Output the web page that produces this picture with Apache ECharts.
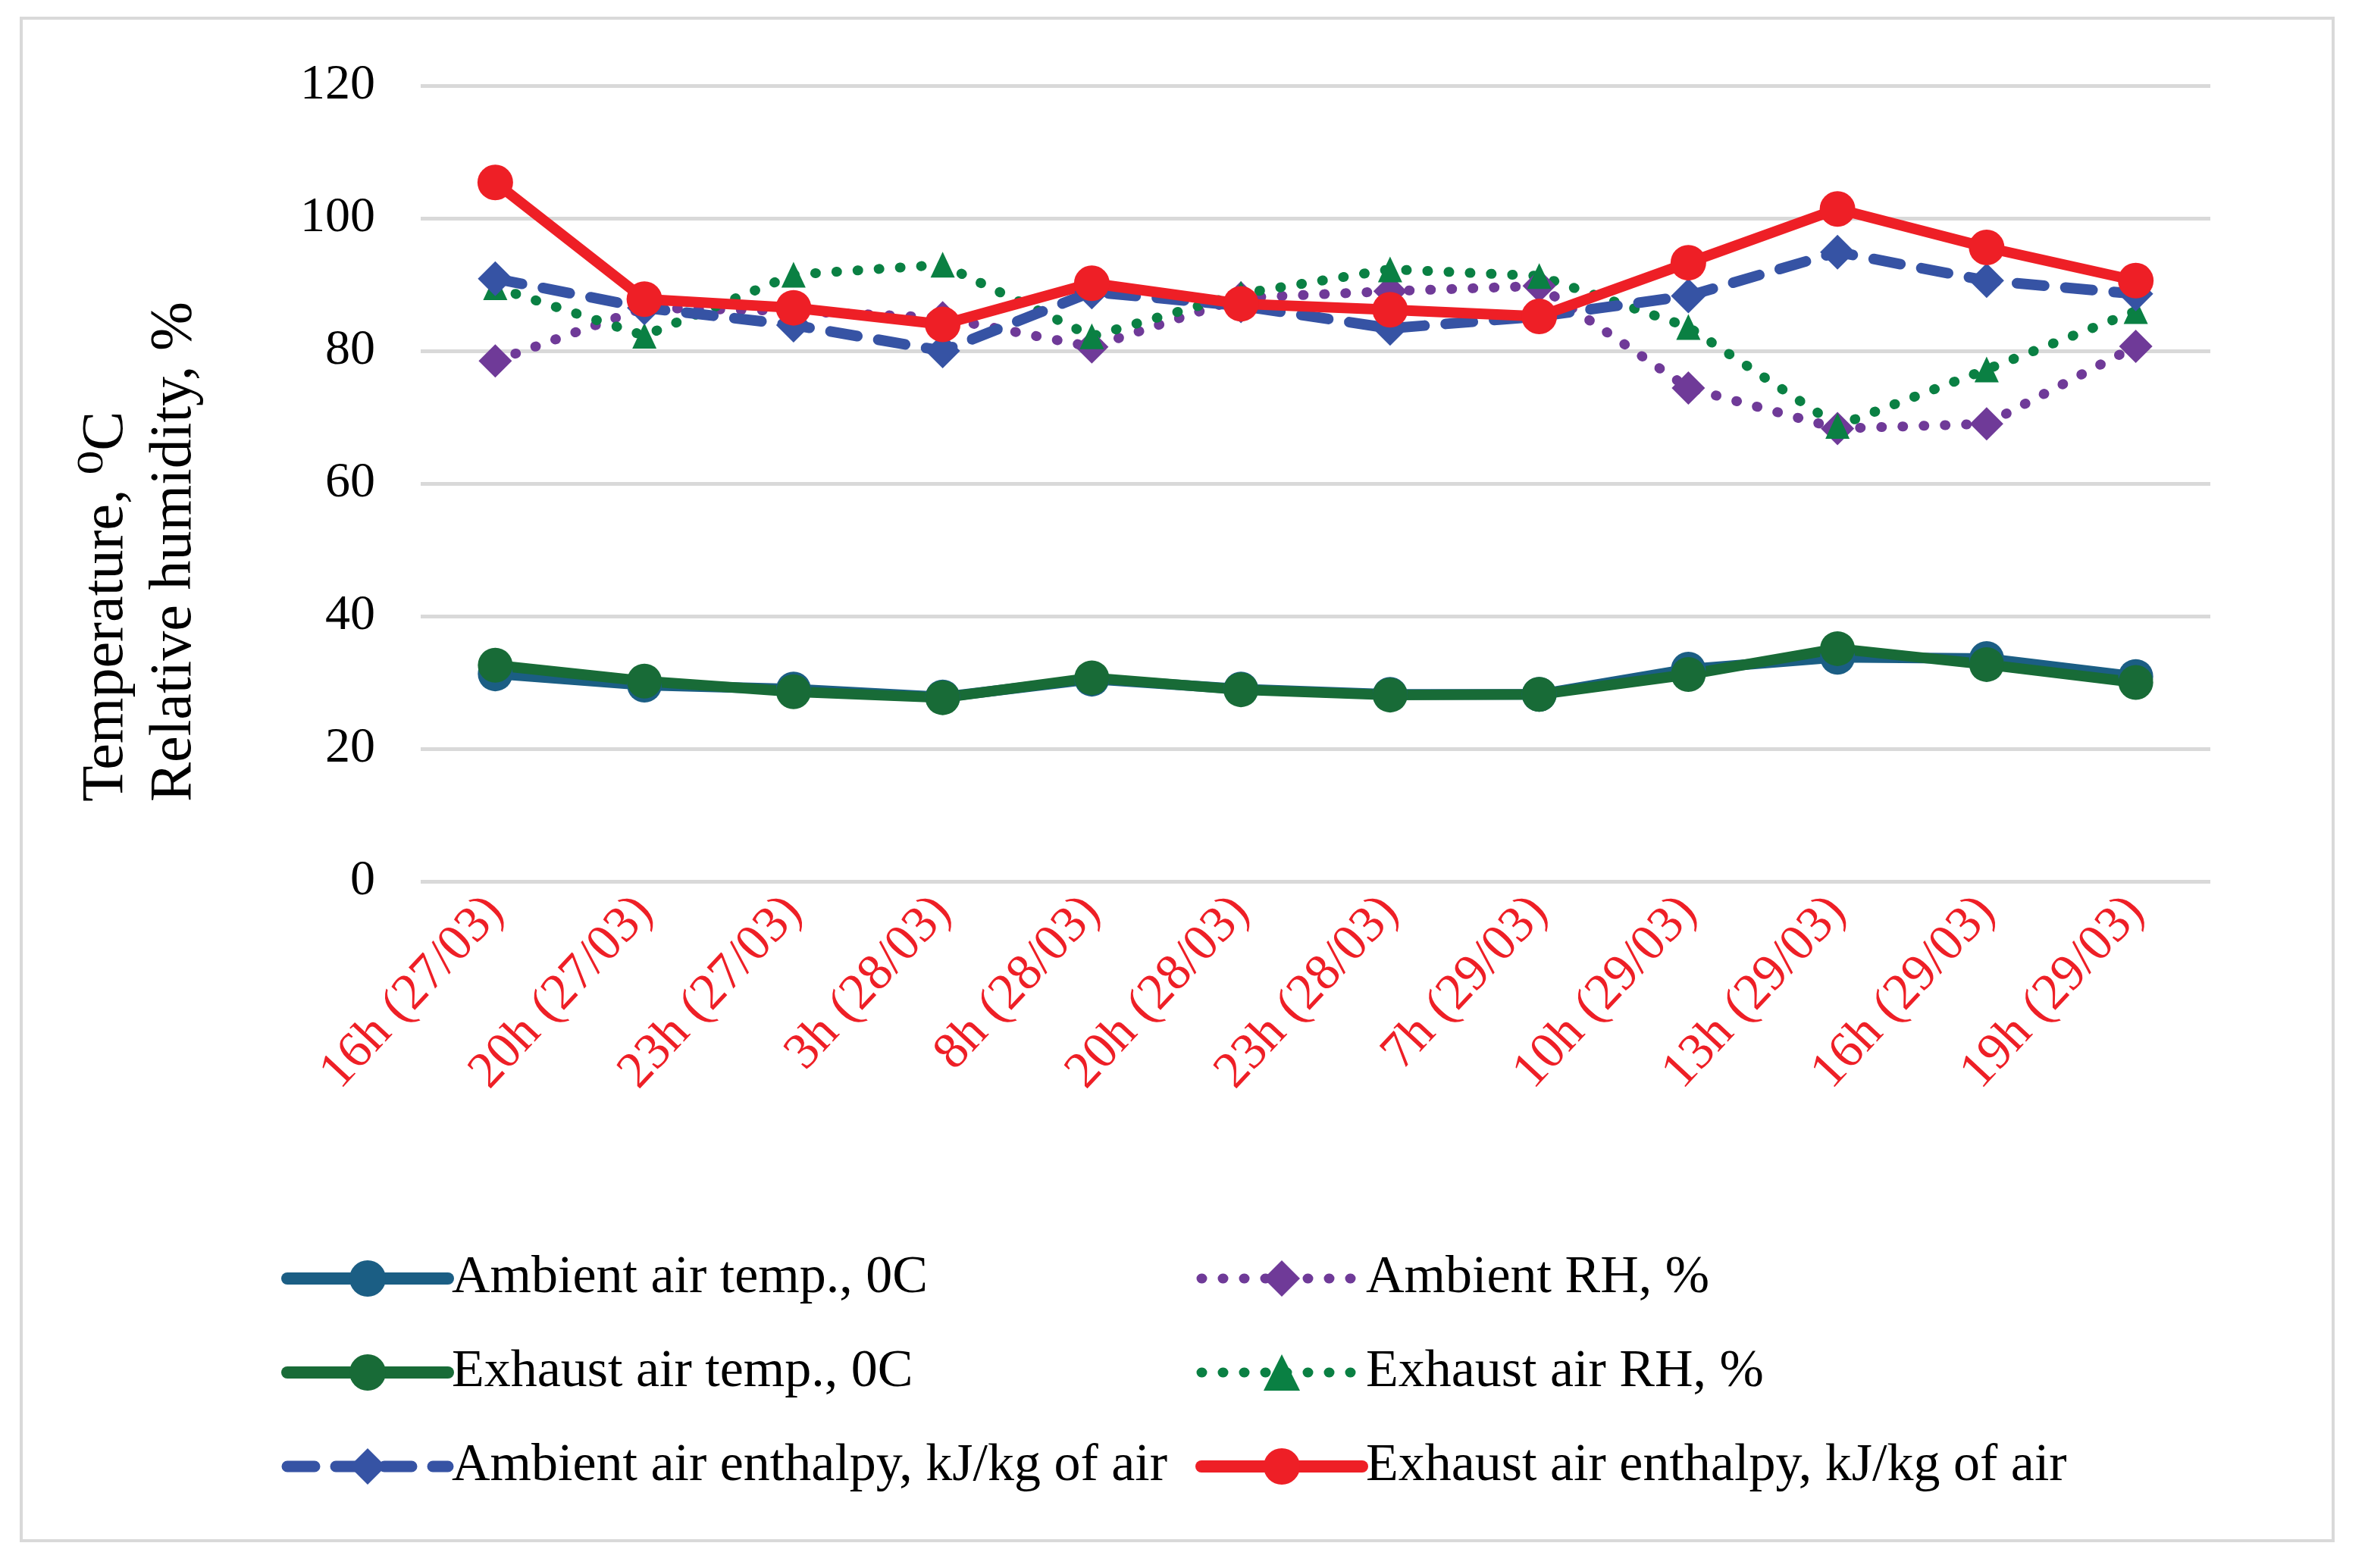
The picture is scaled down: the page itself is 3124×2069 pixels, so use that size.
<!DOCTYPE html>
<html>
<head>
<meta charset="utf-8">
<script src="https://cdn.jsdelivr.net/npm/echarts@6/dist/echarts.min.js"></script>
<style>
  html, body { margin: 0; padding: 0; background: #fff; }
  #chart { width: 3124px; height: 2069px; }
</style>
</head>
<body>
<div id="chart"></div>
<script>
// time points (x axis)
const categories = ['16h (27/03)', '20h (27/03)', '23h (27/03)', '3h (28/03)', '8h (28/03)', '20h (28/03)',
  '23h (28/03)', '7h (29/03)', '10h (29/03)', '13h (29/03)', '16h (29/03)', '19h (29/03)']

// values
const ambientTemp = [31.3, 29.6, 29.0, 27.8, 30.5, 29.0, 28.2, 28.2, 32.0, 33.8, 33.6, 30.9]
const exhaustTemp = [32.6, 30.2, 28.6, 27.7, 30.7, 28.9, 28.1, 28.2, 31.2, 35.1, 32.7, 30.0]
const ambientRH = [78.5, 86.5, 86.0, 85.0, 80.6, 88.0, 89.0, 89.8, 74.4, 68.3, 69.0, 80.7]
const exhaustRH = [89.6, 82.3, 91.5, 93.0, 82.2, 88.6, 92.3, 91.3, 83.6, 68.7, 77.2, 86.0]
const ambientEnthalpy = [90.9, 86.5, 83.9, 80.0, 88.9, 86.8, 83.4, 85.2, 88.3, 94.9, 90.6, 88.6]
const exhaustEnthalpy = [105.4, 87.8, 86.5, 84.0, 90.2, 87.1, 86.2, 85.2, 93.3, 101.4, 95.6, 90.6]

const yTicks = { min: 0, max: 120, interval: 20 }

const serif = '"Liberation Serif", "Times New Roman", "DejaVu Serif", serif'

const chart = echarts.init(document.getElementById('chart'))

const makeLine = (name, data, color, opts) => ({
  name: name,
  type: 'line',
  data: data,
  symbol: opts.symbol,
  symbolSize: opts.symbolSize,
  showSymbol: true,
  itemStyle: { color: color },
  lineStyle: {
    color: color,
    width: opts.width,
    type: opts.dash || 'solid',
    cap: 'round',
    join: 'round'
  },
  emphasis: { disabled: true },
  animation: false
})

const legendText = {
  fontFamily: serif,
  fontSize: 70,
  lineHeight: 70,
  color: '#000'
}

// legend entries get the same stroke width as the plotted lines
const legendItem = (name, width) => ({ name: name, lineStyle: { width: width, cap: 'round' } })

const option = {
  backgroundColor: '#fff',
  animation: false,
  grid: {
    left: 555,
    right: 208,
    top: 113,
    bottom: 906
  },
  legend: [
    {
      orient: 'vertical',
      left: 366,
      top: 1647,
      itemWidth: 212,
      itemHeight: 60,
      itemGap: 54,
      textStyle: legendText,
      data: [
        legendItem('Ambient air temp., 0C', 16),
        legendItem('Exhaust air temp., 0C', 16),
        legendItem('Ambient air enthalpy, kJ/kg of air', 15)
      ]
    },
    {
      orient: 'vertical',
      left: 1572,
      top: 1647,
      itemWidth: 212,
      itemHeight: 60,
      itemGap: 54,
      textStyle: legendText,
      data: [
        legendItem('Ambient RH, %', 13),
        legendItem('Exhaust air RH, %', 13),
        legendItem('Exhaust air enthalpy, kJ/kg of air', 16)
      ]
    }
  ],
  xAxis: {
    type: 'category',
    data: categories,
    boundaryGap: true,
    axisLine: { show: false },
    axisTick: { show: false },
    axisLabel: {
      rotate: 47,
      margin: 30,
      interval: 0,
      color: '#ee1f26',
      fontFamily: serif,
      fontSize: 68
    }
  },
  yAxis: {
    type: 'value',
    min: yTicks.min,
    max: yTicks.max,
    interval: yTicks.interval,
    axisLine: { show: false },
    axisTick: { show: false },
    axisLabel: {
      margin: 60,
      color: '#000',
      fontFamily: serif,
      fontSize: 66
    },
    splitLine: {
      lineStyle: { color: '#d9d9d9', width: 5 }
    }
  },
  graphic: [
    {
      type: 'rect',
      shape: { x: 28, y: 24, width: 3050, height: 2009 },
      style: { fill: 'none', stroke: '#d9d9d9', lineWidth: 4 },
      silent: true
    },
    {
      type: 'text',
      x: 186,
      y: 1058,
      rotation: Math.PI / 2,
      style: {
        text: 'Temperature, \u2070C\nRelative humidity, %',
        fontFamily: serif,
        fontSize: 78,
        lineHeight: 90,
        fill: '#000',
        align: 'left',
        verticalAlign: 'middle'
      },
      silent: true
    }
  ],
  series: [
    makeLine('Ambient air temp., 0C', ambientTemp, '#1b5e84', { symbol: 'circle', symbolSize: 46, width: 14 }),
    makeLine('Exhaust air temp., 0C', exhaustTemp, '#186b37', { symbol: 'circle', symbolSize: 46, width: 14 }),
    makeLine('Ambient RH, %', ambientRH, '#6f3a98', { symbol: 'diamond', symbolSize: 44, width: 13, dash: [1, 27] }),
    makeLine('Exhaust air RH, %', exhaustRH, '#0a8043', { symbol: 'triangle', symbolSize: [32, 34], width: 13, dash: [1, 27] }),
    makeLine('Ambient air enthalpy, kJ/kg of air', ambientEnthalpy, '#3653a4', { symbol: 'diamond', symbolSize: 46, width: 14, dash: [36, 28] }),
    makeLine('Exhaust air enthalpy, kJ/kg of air', exhaustEnthalpy, '#ee1f26', { symbol: 'circle', symbolSize: 47, width: 14 })
  ]
}

chart.setOption(option)

window.addEventListener('resize', () => {
  chart.resize()
})
</script>
</body>
</html>
